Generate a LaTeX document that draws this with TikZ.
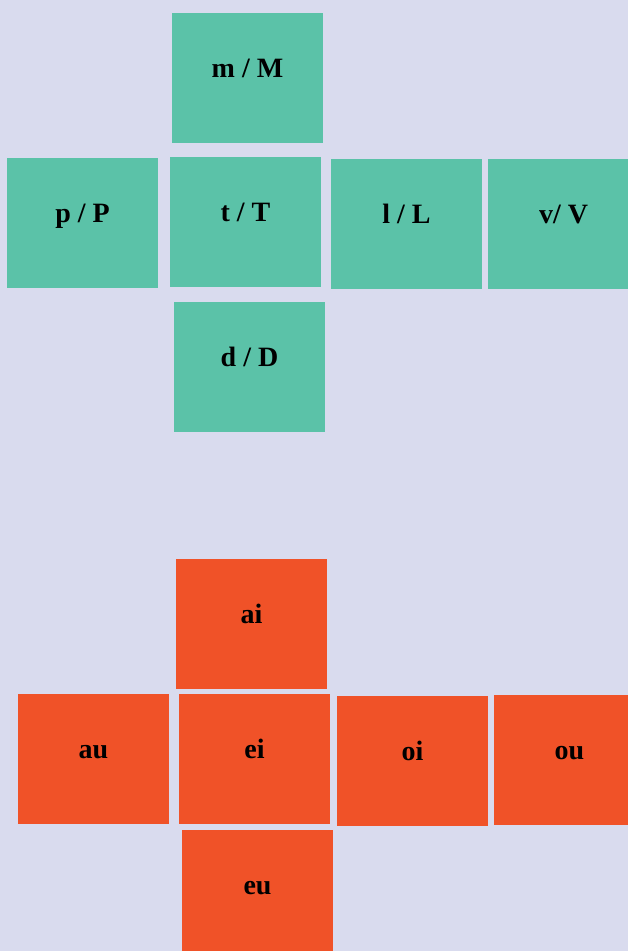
\documentclass[tikz,border=0pt]{standalone}
\usepackage{fontspec}
\setmainfont{Liberation Serif}
\definecolor{bgc}{HTML}{D9DBEE}
\definecolor{greenc}{HTML}{5BC2A8}
\definecolor{redc}{HTML}{F05228}
\tikzset{
  tile/.style={rectangle, anchor=north west, inner sep=0pt, outer sep=0pt,
    minimum width=151pt, minimum height=130pt, text height=64pt, text depth=66pt,
    font=\fontsize{28}{30}\selectfont\bfseries, text=black},
  gtile/.style={tile, fill=greenc},
  rtile/.style={tile, fill=redc}
}
\begin{document}
\begin{tikzpicture}[x=1pt,y=-1pt]
\fill[bgc] (0,0) rectangle (628,951);
\useasboundingbox (0,0) rectangle (628,951);
\clip (0,0) rectangle (628,951);
% top group
\node[gtile] (m) at (172,13) {m / M};
\node[gtile] (p) at (7,158) {p / P};
\node[gtile] (t) at (170,157) {t / T};
\node[gtile] (l) at (331,159) {l / L};
\node[gtile] (v) at (488,159) {v/ V};
\node[gtile] (d) at (174,302) {d / D};
% bottom group
\node[rtile] (ai) at (176,559) {ai};
\node[rtile] (au) at (18,694) {au};
\node[rtile] (ei) at (179,694) {ei};
\node[rtile] (oi) at (337,696) {oi};
\node[rtile] (ou) at (494,695) {ou};
\node[rtile] (eu) at (182,830) {eu};
\end{tikzpicture}
\end{document}
